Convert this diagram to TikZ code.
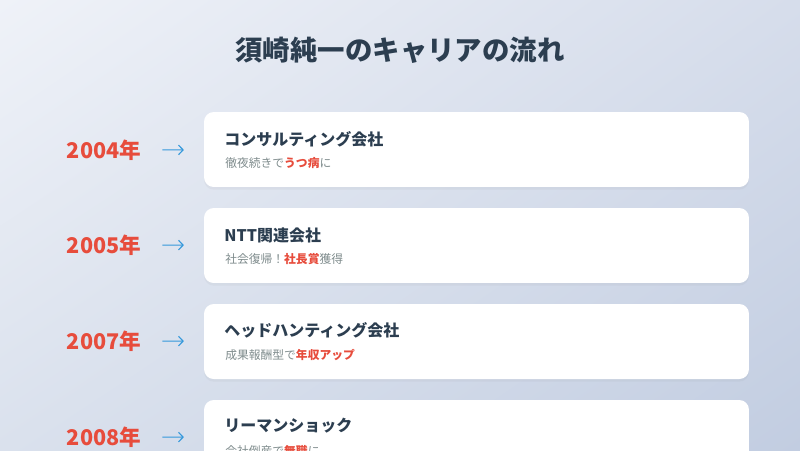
\documentclass[tikz,border=0pt]{standalone}
\usepackage{fontspec}
\setmainfont{Noto Sans CJK JP}
\usetikzlibrary{arrows.meta,shadows,shadings}
\definecolor{bgTL}{RGB}{239,242,248}
\definecolor{bgTR}{RGB}{214,221,235}
\definecolor{bgBL}{RGB}{218,225,237}
\definecolor{bgBR}{RGB}{194,205,225}
\definecolor{ink}{HTML}{2C3E50}
\definecolor{yearred}{HTML}{E74C3C}
\definecolor{arrblue}{HTML}{3498DB}
\definecolor{subgrey}{HTML}{7F8C8D}
\newcommand{\hl}[1]{{\bfseries\color{yearred}#1}}
\begin{document}
\begin{tikzpicture}[x=0.02cm,y=-0.02cm,
    card/.style = {fill=white,rounded corners=5.5pt,minimum width=10.9cm,minimum height=1.5cm,
                   drop shadow={opacity=0.07,shadow xshift=0pt,shadow yshift=-1.5pt}},
    year/.style = {text=yearred,font=\fontsize{12.3}{14}\selectfont\bfseries,inner sep=0pt},
    head/.style = {anchor=west,text=ink,font=\fontsize{9.1}{11}\selectfont\bfseries,inner sep=0pt},
    sub/.style = {anchor=west,text=subgrey,font=\fontsize{6.7}{8}\selectfont,inner sep=0pt},
    arrow/.style = {arrblue,line width=0.65pt,-{Straight Barb[length=2.6pt,width=5.5pt]},
                    shorten <=11.9pt,shorten >=11.3pt}]
    \useasboundingbox (0,0) rectangle (800,450);
    \clip (0,0) rectangle (800,450);
    \shade[upper left=bgTL,upper right=bgTR,lower left=bgBL,lower right=bgBR]
        (0,0) rectangle (800,450);

    \node[text=ink,font=\fontsize{15.6}{18}\selectfont\bfseries] (title) at (400,50) {須崎純一のキャリアの流れ};

    % cards
    \node[card] (c1) at (476.5,149.5) {};
    \node[card] (c2) at (476.5,245.5) {};
    \node[card] (c3) at (476.5,341.5) {};
    \node[card] (c4) at (476.5,437.5) {};

    % years
    \node[year] (y1) at (104,150) {2004年};
    \node[year] (y2) at (104,245) {2005年};
    \node[year] (y3) at (104,341) {2007年};
    \node[year] (y4) at (104,437) {2008年};

    \draw[arrow] (y1) -- (c1);
    \draw[arrow] (y2) -- (c2);
    \draw[arrow] (y3) -- (c3);
    \draw[arrow] (y4) -- (c4);

    % card texts
    \node[head] (h1) at (224,139) {コンサルティング会社};
    \node[sub]  (s1) at (225,163) {徹夜続きで\hl{うつ病}に};
    \node[head] (h2) at (224,235) {NTT関連会社};
    \node[sub]  (s2) at (225,259) {社会復帰！\hl{社長賞}獲得};
    \node[head] (h3) at (224,330) {ヘッドハンティング会社};
    \node[sub]  (s3) at (225,355) {成果報酬型で\hl{年収アップ}};
    \node[head] (h4) at (224,426) {リーマンショック};
    \node[sub]  (s4) at (225,451) {会社倒産で\hl{無職}に};
\end{tikzpicture}
\end{document}
